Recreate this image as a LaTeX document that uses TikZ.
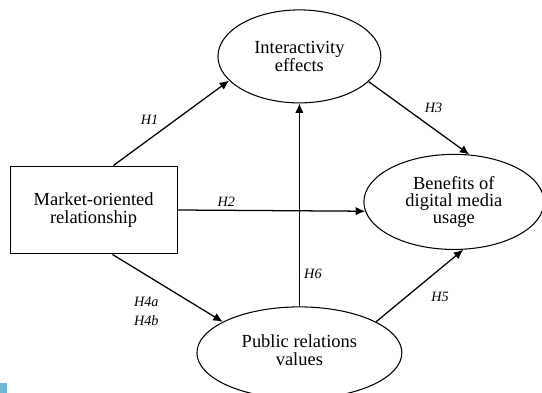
\documentclass[tikz,border=0pt]{standalone}
\usepackage{amsmath}
\usepackage{fontspec}
\setmainfont{Liberation Serif}
\usetikzlibrary{shapes.geometric,arrows.meta}
\definecolor{markcyan}{RGB}{107,184,218}
\begin{document}
\begin{tikzpicture}[auto,
  construct/.style ={rectangle, draw, line width=1pt, inner sep = 0pt, minimum width=5.57cm, minimum height=2.93cm, align=center, font=\fontsize{17.5}{16.5}\selectfont},
  latent/.style ={ellipse, draw, line width=1pt, inner sep = 0pt, align=center, font=\fontsize{17.5}{16.5}\selectfont},
  path/.style ={line width=1.2pt, -{Latex[length=9pt,width=8pt]}},
  hyp/.style ={font=\fontsize{13.5}{18}\selectfont\itshape, inner sep=3pt}]
 \useasboundingbox (0,0) rectangle (18.067,-13.1);
 \node[construct] (M) at (3.12,-7.0) {Market-oriented\\relationship};
 \node[latent, minimum width=5.43cm, minimum height=3.1cm] (I) at (9.98,-1.88) {Interactivity\\effects};
 \node[latent, minimum width=6.0cm, minimum height=3.17cm] (B) at (15.13,-6.73) {Benefits of\\digital media\\usage};
 \node[latent, minimum width=6.83cm, minimum height=3.06cm] (P) at (9.98,-11.76) {\raisebox{6pt}{\begin{tabular}{@{}c@{}}Public relations\\values\end{tabular}}};
 \draw[path] (M.66.6) to node[hyp, pos=0.43, above left, inner sep=4pt] {H1} (I.199.6);
 \draw[path] (M.east) to node[hyp, pos=0.26, above] {H2} (B.186);
 \draw[path] (I.340.4) to node[hyp, pos=0.5, above right, inner sep=5pt] {H3} (B.72.3);
 \draw[path] (M.293.9) to node[hyp, pos=0.5, below left, align=left, inner sep=8pt] {H4a\\H4b} (P.158.6);
 \draw[path] (P.22.5) to node[hyp, pos=0.53, below right, inner sep=8pt] {H5} (B.281.8);
 \draw[path] (P.north) to node[hyp, pos=0.16, right, inner sep=4pt] {H6} (I.south);
 \fill[markcyan] (0,-12.77) rectangle (0.23,-13.1);
\end{tikzpicture}
\end{document}
